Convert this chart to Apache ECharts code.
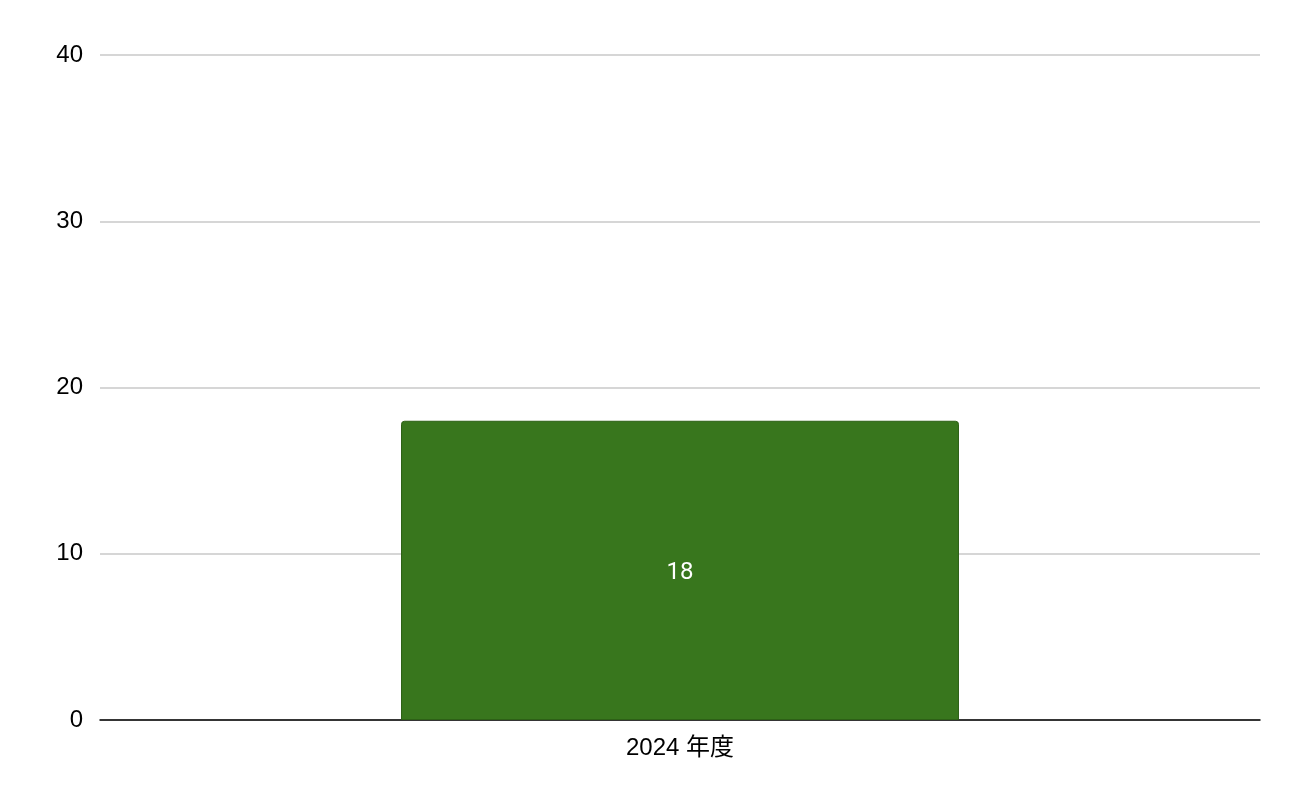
<!DOCTYPE html>
<html><head><meta charset="utf-8">
<script src="https://cdn.jsdelivr.net/npm/echarts@6/dist/echarts.min.js"></script>
<style>html,body{margin:0;padding:0;background:#fff}#c{width:1300px;height:804px}</style>
</head><body><div id="c"></div>
<script>
const categories = ["2024 年度"];
const values = [18];
const yTicks = { min: 0, max: 40, interval: 10 };

const chart = echarts.init(document.getElementById('c'));
chart.setOption({
  animation: false,
  grid: { left: 100, right: 40, top: 55, bottom: 84, containLabel: false },
  xAxis: {
    type: 'category', data: categories,
    axisLine: { show: true, lineStyle: { color: '#000', width: 1.5 } },
    axisTick: { show: false },
    axisLabel: { color: '#000', fontSize: 24, margin: 16, fontFamily: '"Liberation Sans", Arial, "Noto Sans CJK JP", sans-serif' }
  },
  yAxis: {
    type: 'value', min: yTicks.min, max: yTicks.max, interval: yTicks.interval,
    axisLine: { show: false }, axisTick: { show: false },
    axisLabel: { color: '#000', fontSize: 24, margin: 17, fontFamily: '"Liberation Sans", Arial, sans-serif' },
    splitLine: { lineStyle: { color: '#c8c8c8', width: 1.5 } }
  },
  series: [{
    type: 'bar', data: values, barWidth: '48.1%',
    itemStyle: { color: '#38761d', borderColor: '#2d6016', borderWidth: 1, borderRadius: [3,3,0,0] },
    label: { show: true, position: 'inside', offset: [0, 3], color: '#fff', fontSize: 24, fontFamily: 'Roboto, Arial, sans-serif' }
  }]
});
</script></body></html>
